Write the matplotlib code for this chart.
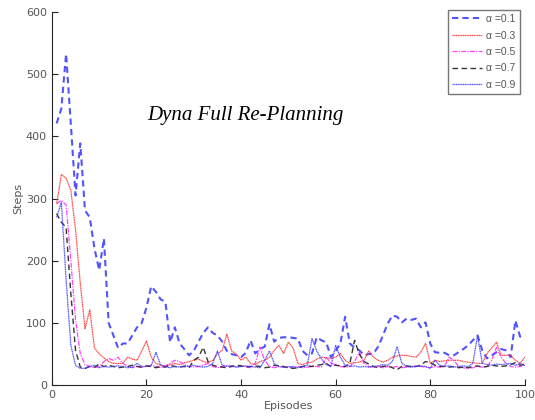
import numpy as np
import matplotlib
matplotlib.use("Agg")
import matplotlib.pyplot as plt

# episodes 1..100
episodes = np.arange(1, 101)

steps_a01 = [421, 445, 533, 420, 305, 389, 281, 270, 220, 185,
             236, 100, 80, 60, 67, 67, 80, 93, 100, 125,
             159, 150, 138, 134, 69, 93, 67, 58, 48, 55,
             70, 84, 93, 84, 80, 70, 55, 50, 48, 45,
             52, 72, 51, 58, 62, 98, 70, 76, 77, 77,
             76, 75, 55, 48, 51, 77, 72, 69, 45, 55,
             67, 110, 67, 60, 56, 48, 50, 51, 62, 80,
             99, 112, 110, 101, 107, 105, 107, 93, 101, 67,
             53, 52, 52, 48, 48, 53, 58, 64, 72, 80,
             56, 43, 48, 53, 58, 56, 45, 104, 78, 75]

steps_a03 = [292, 339, 333, 314, 250, 164, 91, 121, 60, 50,
             44, 38, 35, 35, 35, 45, 42, 40, 55, 71,
             45, 35, 32, 30, 33, 35, 33, 36, 38, 40,
             42, 38, 36, 40, 50, 56, 82, 55, 50, 40,
             45, 35, 33, 38, 40, 45, 56, 64, 51, 69,
             60, 35, 33, 36, 37, 42, 45, 44, 43, 45,
             51, 40, 35, 36, 37, 40, 55, 45, 40, 37,
             40, 45, 47, 48, 48, 46, 45, 53, 67, 35,
             40, 38, 39, 40, 40, 40, 38, 37, 36, 35,
             35, 51, 60, 69, 48, 48, 48, 40, 35, 45]

steps_a05 = [292, 297, 290, 201, 105, 51, 33, 30, 28, 30,
             38, 43, 40, 45, 35, 30, 28, 30, 29, 30,
             32, 30, 28, 31, 35, 40, 38, 33, 30, 29,
             30, 32, 35, 30, 28, 30, 32, 30, 29, 31,
             30, 28, 35, 61, 40, 30, 28, 30, 29, 28,
             30, 30, 28, 29, 30, 30, 29, 45, 35, 33,
             30, 29, 30, 38, 53, 35, 30, 29, 30, 28,
             30, 29, 30, 28, 29, 30, 31, 30, 29, 28,
             30, 29, 30, 45, 40, 30, 28, 27, 28, 30,
             29, 30, 40, 61, 45, 35, 30, 29, 30, 32]

steps_a07 = [276, 262, 254, 148, 56, 29, 27, 30, 29, 34,
             30, 32, 30, 28, 29, 30, 32, 30, 29, 31,
             30, 28, 30, 29, 32, 30, 29, 30, 28, 40,
             45, 61, 38, 32, 30, 29, 28, 30, 32, 31,
             29, 30, 31, 30, 28, 29, 32, 31, 30, 28,
             27, 28, 30, 31, 30, 32, 33, 35, 30, 32,
             31, 30, 35, 72, 50, 38, 34, 30, 28, 30,
             31, 28, 25, 30, 31, 30, 30, 32, 38, 36,
             32, 30, 30, 29, 30, 28, 29, 28, 30, 31,
             29, 30, 32, 31, 30, 31, 33, 36, 32, 34]

steps_a09 = [270, 294, 170, 64, 32, 27, 27, 30, 32, 28,
             30, 29, 30, 31, 30, 28, 29, 35, 30, 30,
             31, 53, 32, 30, 28, 30, 29, 31, 30, 32,
             30, 29, 30, 35, 55, 32, 30, 31, 29, 30,
             31, 30, 29, 28, 40, 55, 35, 30, 29, 30,
             29, 28, 30, 32, 75, 55, 42, 33, 30, 64,
             45, 32, 30, 31, 29, 30, 29, 30, 31, 33,
             32, 38, 62, 35, 30, 29, 30, 31, 30, 27,
             40, 32, 30, 31, 29, 30, 31, 30, 35, 80,
             35, 33, 32, 34, 33, 34, 35, 32, 35, 31]

labels = ["α =0.1", "α =0.3", "α =0.5", "α =0.7", "α =0.9"]

fig = plt.figure(figsize=(5.35, 4.2), dpi=100)
ax = fig.add_axes([0.097, 0.083, 0.884, 0.888])

ax.plot(episodes, steps_a01, color="#4040ff", ls=(0, (3, 2)), lw=1.5, alpha=0.9, label=labels[0])
ax.plot(episodes, steps_a03, color="#ff3030", ls=(0, (1, 0.4)), lw=0.9, alpha=0.9, label=labels[1])
ax.plot(episodes, steps_a05, color="#ff30ff", ls=(0, (4, 1, 1, 1)), lw=0.9, alpha=0.9, label=labels[2])
ax.plot(episodes, steps_a07, color="#202020", ls=(0, (4, 2.5)), lw=1.0, alpha=0.9, label=labels[3])
ax.plot(episodes, steps_a09, color="#4040ff", ls=(0, (1, 0.4)), lw=0.9, alpha=0.9, label=labels[4])

ax.set_xlim(0, 100)
ax.set_ylim(0, 600)
ax.set_xticks([0, 20, 40, 60, 80, 100])
ax.set_yticks([0, 100, 200, 300, 400, 500, 600])

for s in ["top", "right"]:
    ax.spines[s].set_visible(False)
for s in ["left", "bottom"]:
    ax.spines[s].set_color("#262626")
    ax.spines[s].set_linewidth(0.8)
ax.tick_params(direction="in", length=4, width=0.8, colors="#262626",
               labelcolor="#555555", labelsize=8)
ax.set_xlabel("Episodes", fontsize=8, color="#555555", labelpad=1)
ax.set_ylabel("Steps", fontsize=8, color="#555555", labelpad=2)

ax.text(41, 434, "Dyna Full Re-Planning", family="Liberation Serif",
        style="italic", fontsize=15, ha="center", va="center")

leg = ax.legend(loc="upper right", bbox_to_anchor=(1.0, 1.02),
                prop={"family": "Liberation Sans", "size": 7.5},
                frameon=True, fancybox=False, handlelength=2.9,
                handletextpad=0.4, labelspacing=0.62, borderpad=0.4)
leg.get_frame().set_edgecolor("#555555")
leg.get_frame().set_linewidth(1.0)
for t in leg.get_texts():
    t.set_color("#555555")

fig.savefig("out.png", dpi=100)
